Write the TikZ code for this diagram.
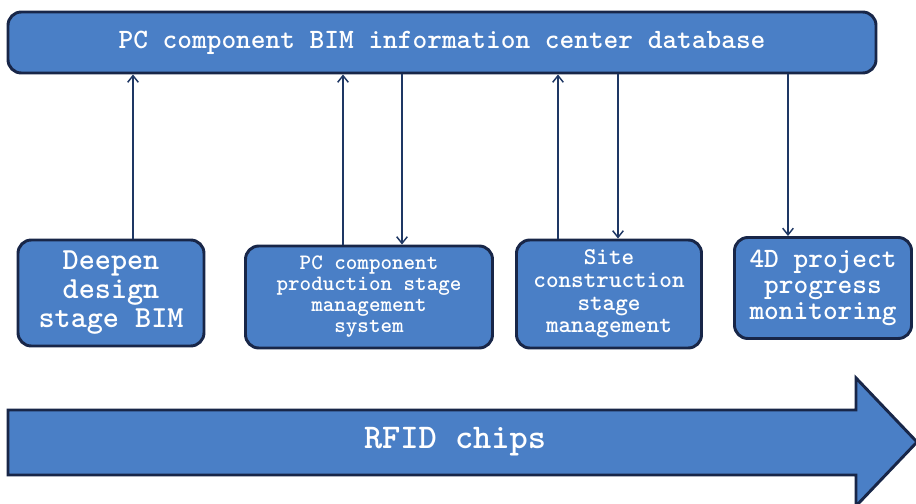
\documentclass[tikz,border=0pt]{standalone}
\usetikzlibrary{arrows.meta}
\definecolor{boxblue}{RGB}{74,127,198}
\definecolor{navy}{RGB}{24,38,72}
\definecolor{linkblue}{RGB}{30,55,100}
\newcommand{\boxfont}[2]{\fontsize{#1}{#2}\selectfont\ttfamily\bfseries}

\begin{document}
\begin{tikzpicture}[x=0.75pt,y=-0.75pt,
  stagebox/.style={draw=navy, line width=2.2pt, fill=boxblue, rounded corners=10pt,
    text=white, align=center, inner sep=0pt},
  link/.style={linkblue, line width=1.1pt, -{Straight Barb[length=5pt,width=8pt]}}]

\useasboundingbox[fill=white] (0,0) rectangle (916,503);

% database bar
\node (bar) at (442,42.5) [stagebox, minimum width=651pt, minimum height=45.75pt,
  font=\boxfont{21pt}{24pt}] {PC component BIM information center database};

% stages
\node (design) at (111,293) [stagebox, minimum width=139.5pt, minimum height=79.5pt,
  font=\boxfont{23pt}{21.75pt}] {Deepen\\design\\stage BIM};
\node (prod) at (369,297) [stagebox, minimum width=185.25pt, minimum height=76.5pt,
  font=\boxfont{16.5pt}{15.75pt}] {PC component\\production stage\\management\\system};
\node (site) at (609,294) [stagebox, minimum width=138.75pt, minimum height=81pt,
  font=\boxfont{18pt}{17pt}] {Site\\construction\\stage\\management};
\node (prog) at (823,288) [stagebox, minimum width=132.75pt, minimum height=75.75pt,
  font=\boxfont{21pt}{19.5pt}] {4D project\\progress\\monitoring};

% RFID arrow
\draw[navy, line width=2.2pt, fill=boxblue, line join=miter]
  (8,410) -- (856,410) -- (856,378) -- (917,442) -- (856,506) -- (856,475) -- (8,475) -- cycle;
\node (rfid) at (455,442) [text=white, font=\boxfont{26pt}{28pt}] {RFID chips};

% links
\coordinate (u1) at ([xshift=16.5pt]design.north);
\coordinate (u2) at ([xshift=-19.5pt]prod.north);
\coordinate (d2) at ([xshift=24.75pt]prod.north);
\coordinate (u3) at ([xshift=-38.25pt]site.north);
\coordinate (d3) at ([xshift=6.75pt]site.north);
\coordinate (d4) at ([xshift=-26.25pt]prog.north);

\draw[link] (u1) -- (u1 |- bar.south);
\draw[link] (u2) -- (u2 |- bar.south);
\draw[link] (d2 |- bar.south) -- (d2);
\draw[link] (u3) -- (u3 |- bar.south);
\draw[link] (d3 |- bar.south) -- (d3);
\draw[link] (d4 |- bar.south) -- (d4);

\end{tikzpicture}
\end{document}
